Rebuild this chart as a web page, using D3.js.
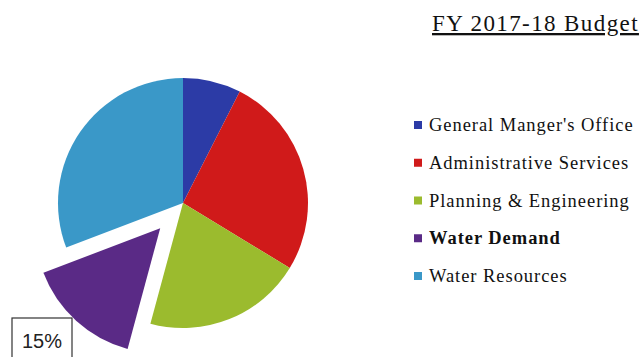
<!DOCTYPE html>
<html>
<head>
<meta charset="utf-8">
<script src="https://cdn.jsdelivr.net/npm/d3@7"></script>
<style>
  body { margin: 0; background: #fff; }
  .legend-text { font-family: 'Liberation Serif', 'Times New Roman', serif; font-size: 18.5px; letter-spacing: 0.95px; fill: #111; }
  .chart-title { font-family: 'Liberation Serif', 'Times New Roman', serif; font-size: 23px; letter-spacing: 1.4px; fill: #111; text-decoration: underline; }
</style>
</head>
<body>
<div id="budget-pie"></div>
<script>
// slice data (percent of budget)
const departments = ["General Manger's Office", 'Administrative Services', 'Planning & Engineering', 'Water Demand', 'Water Resources'];
const shares = [7.5, 26.2, 20.5, 15, 30.8];
const sliceColors = ['#2c3ba6', '#d01a1a', '#9bbb2e', '#5a2a86', '#3a98c8'];
const explodedSlice = 'Water Demand';
const labelText = '15%';

const svgWidth = 640;
const svgHeight = 357;
const center = { x: 183, y: 203 };
const radius = 125;

const svg = d3.select('#budget-pie')
  .append('svg')
  .attr('width', svgWidth)
  .attr('height', svgHeight);

const colors = d3.scaleOrdinal().domain(departments).range(sliceColors);

const pie = d3.pie().sort(null).value(d => d.value);
const arc = d3.arc().innerRadius(0).outerRadius(radius);

const slices = pie(departments.map((name, i) => ({ name, value: shares[i] })));

const g = svg.append('g')
  .attr('transform', `translate(${center.x}, ${center.y})`);

// pull the highlighted slice out along its mid angle
g.selectAll('path')
  .data(slices)
  .enter()
  .append('path')
  .attr('d', arc)
  .attr('fill', d => colors(d.data.name))
  .attr('transform', d => {
    if (d.data.name !== explodedSlice) return null;
    const mid = (d.startAngle + d.endAngle) / 2;
    const off = 34;
    return `translate(${Math.sin(mid) * off}, ${-Math.cos(mid) * off})`;
  });

// data label box
const label = svg.append('g').attr('transform', 'translate(12, 318)');
label.append('rect')
  .attr('width', 60)
  .attr('height', 45)
  .attr('fill', '#fff')
  .attr('stroke', '#333')
  .attr('stroke-width', 1.2);
label.append('text')
  .attr('x', 30)
  .attr('y', 30)
  .attr('text-anchor', 'middle')
  .style('font-family', "'Liberation Sans', Arial, sans-serif")
  .style('font-size', '20px')
  .attr('fill', '#222')
  .text(labelText);

// title
svg.append('text')
  .attr('class', 'chart-title')
  .attr('x', 432)
  .attr('y', 31)
  .text('FY 2017-18 Budget');

// legend
const legendY = d3.scalePoint()
  .domain(departments)
  .range([125, 276]);

const legend = svg.append('g').attr('class', 'legend');

legend.selectAll('rect')
  .data(departments)
  .enter()
  .append('rect')
  .attr('x', 414)
  .attr('y', d => legendY(d) - 4)
  .attr('width', 8)
  .attr('height', 8)
  .attr('fill', d => colors(d));

legend.selectAll('text')
  .data(departments)
  .enter()
  .append('text')
  .attr('class', 'legend-text')
  .attr('x', 429)
  .attr('y', d => legendY(d) + 6)
  .style('font-weight', d => d === explodedSlice ? 'bold' : 'normal')
  .text(d => d);
</script>
</body>
</html>
